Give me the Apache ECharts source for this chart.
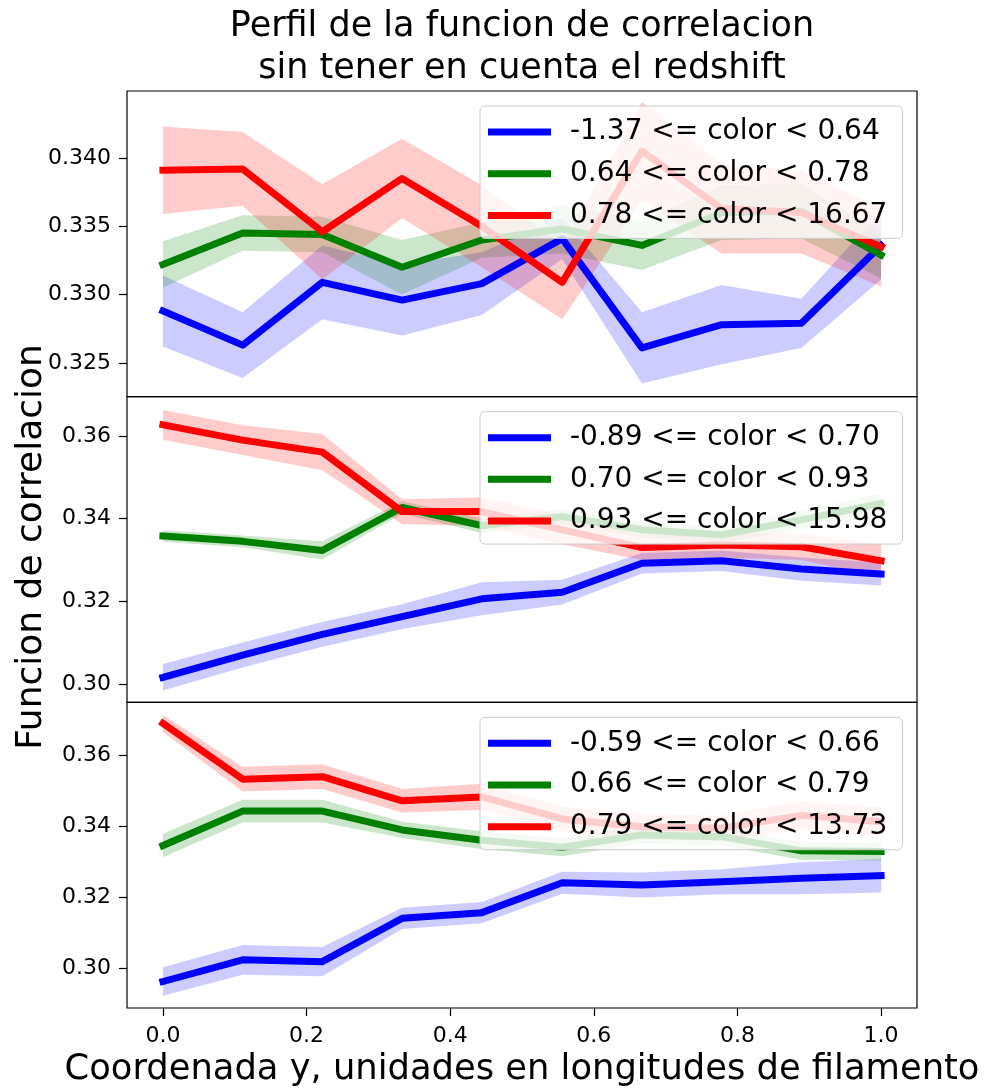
<!DOCTYPE html>
<html>
<head>
<meta charset="utf-8">
<script src="https://cdn.jsdelivr.net/npm/echarts@6/dist/echarts.min.js"></script>
<style>
  html, body { margin: 0; padding: 0; background: #ffffff; }
  #chart { width: 986px; height: 1092px; }
</style>
</head>
<body>
<div id="chart"></div>
<script>
// Position along the filament (normalised coordinate y)
const coordY = [0.0, 0.111, 0.222, 0.333, 0.444, 0.556, 0.667, 0.778, 0.889, 1.0];
const xTicks = [0.0, 0.2, 0.4, 0.6, 0.8, 1.0];

// Panel 1 colour bins
const labels1 = ['-1.37 <= color < 0.64', '0.64 <= color < 0.78', '0.78 <= color < 16.67'];
const blue1 = [0.3288, 0.3263, 0.3309, 0.3296, 0.3308, 0.3341, 0.3261, 0.3278, 0.3279, 0.3336];
const blue1Err = [0.0026, 0.0024, 0.0027, 0.0026, 0.0023, 0.0015, 0.0026, 0.0029, 0.0018, 0.0025];
const green1 = [0.3322, 0.3345, 0.3344, 0.3320, 0.3340, 0.3348, 0.3336, 0.3360, 0.3361, 0.3329];
const green1Err = [0.0017, 0.0013, 0.0013, 0.0020, 0.0013, 0.0018, 0.0018, 0.0020, 0.0020, 0.0017];
const red1 = [0.3391, 0.3392, 0.3346, 0.3385, 0.3350, 0.3309, 0.3405, 0.3363, 0.3360, 0.3335];
const red1Err = [0.0032, 0.0027, 0.0035, 0.0029, 0.0030, 0.0027, 0.0036, 0.0033, 0.0030, 0.0029];
const yTicks1 = [0.325, 0.330, 0.335, 0.340];

// Panel 2 colour bins
const labels2 = ['-0.89 <= color < 0.70', '0.70 <= color < 0.93', '0.93 <= color < 15.98'];
const blue2 = [0.3016, 0.3070, 0.3120, 0.3163, 0.3206, 0.3222, 0.3292, 0.3298, 0.3278, 0.3266];
const blue2Err = [0.0032, 0.0030, 0.0030, 0.0030, 0.0040, 0.0030, 0.0025, 0.0025, 0.0028, 0.0028];
const green2 = [0.3358, 0.3345, 0.3323, 0.3427, 0.3383, 0.3405, 0.3373, 0.3361, 0.3397, 0.3437];
const green2Err = [0.0014, 0.0014, 0.0022, 0.0015, 0.0018, 0.0018, 0.0018, 0.0020, 0.0022, 0.0024];
const red2 = [0.3627, 0.3590, 0.3561, 0.3417, 0.3417, 0.3373, 0.3330, 0.3336, 0.3332, 0.3298];
const red2Err = [0.0036, 0.0036, 0.0044, 0.0030, 0.0035, 0.0035, 0.0030, 0.0030, 0.0032, 0.0040];
const yTicks2 = [0.30, 0.32, 0.34, 0.36];

// Panel 3 colour bins
const labels3 = ['-0.59 <= color < 0.66', '0.66 <= color < 0.79', '0.79 <= color < 13.73'];
const blue3 = [0.2962, 0.3023, 0.3018, 0.3140, 0.3156, 0.3240, 0.3234, 0.3243, 0.3253, 0.3260];
const blue3Err = [0.0040, 0.0042, 0.0041, 0.0030, 0.0030, 0.0031, 0.0035, 0.0035, 0.0045, 0.0047];
const green3 = [0.3345, 0.3442, 0.3442, 0.3389, 0.3360, 0.3340, 0.3375, 0.3370, 0.3330, 0.3328];
const green3Err = [0.0033, 0.0032, 0.0032, 0.0023, 0.0025, 0.0025, 0.0025, 0.0025, 0.0025, 0.0025];
const red3 = [0.3689, 0.3532, 0.3539, 0.3471, 0.3482, 0.3420, 0.3398, 0.3394, 0.3430, 0.3412];
const red3Err = [0.0024, 0.0035, 0.0035, 0.0033, 0.0037, 0.0035, 0.0035, 0.0035, 0.0040, 0.0040];
const yTicks3 = [0.30, 0.32, 0.34, 0.36];

const FONT = 'DejaVu Sans';
const lineColors = ['#0000ff', '#008000', '#ff0000'];
const bandColors = ['rgba(0,0,255,0.2)', 'rgba(0,128,0,0.2)', 'rgba(255,0,0,0.2)'];

const panels = [
  { labels: labels1, means: [blue1, green1, red1], errs: [blue1Err, green1Err, red1Err],
    ticks: yTicks1, digits: 3, min: 0.32253, max: 0.34490, top: 91, height: 305.67 },
  { labels: labels2, means: [blue2, green2, red2], errs: [blue2Err, green2Err, red2Err],
    ticks: yTicks2, digits: 2, min: 0.29555, max: 0.36951, top: 396.67, height: 305.67 },
  { labels: labels3, means: [blue3, green3, red3], errs: [blue3Err, green3Err, red3Err],
    ticks: yTicks3, digits: 2, min: 0.28874, max: 0.37484, top: 702.33, height: 305.67 }
];

// Shaded mean ± error band drawn as one polygon through the axis scales
function bandSeries(k, mean, err, color) {
  const lo = mean.map((v, i) => v - err[i]);
  const hi = mean.map((v, i) => v + err[i]);
  return {
    type: 'custom', xAxisIndex: k, yAxisIndex: k, silent: true, z: 1,
    data: coordY.map((x, i) => [x, lo[i], hi[i]]),
    encode: { x: 0, y: [1, 2] },
    renderItem: (params, api) => {
      if (params.dataIndex !== 0) return null;
      const upper = coordY.map((x, i) => api.coord([x, hi[i]]));
      const lower = coordY.map((x, i) => api.coord([x, lo[i]])).reverse();
      return {
        type: 'polygon',
        shape: { points: upper.concat(lower) },
        style: { fill: color, stroke: null }
      };
    }
  };
}

const grids = [], xAxes = [], yAxes = [], legends = [], bands = [], lines = [];

panels.forEach((p, k) => {
  grids.push({
    left: 127, width: 790, top: p.top, height: p.height,
    show: true, borderColor: '#000000', borderWidth: 1.2, backgroundColor: 'transparent'
  });
  const isBottom = k === panels.length - 1;
  xAxes.push({
    type: 'value', gridIndex: k, min: -0.05, max: 1.05,
    axisLine: { show: false, onZero: false },
    splitLine: { show: false },
    axisTick: { show: isBottom, customValues: xTicks, length: 8, lineStyle: { color: '#000', width: 1.2 } },
    axisLabel: { show: isBottom, customValues: xTicks, margin: 17,
      formatter: v => v.toFixed(1), fontSize: 22, fontFamily: FONT, color: '#000' }
  });
  yAxes.push({
    type: 'value', gridIndex: k, min: p.min, max: p.max,
    axisLine: { show: false, onZero: false },
    splitLine: { show: false },
    axisTick: { show: true, customValues: p.ticks, length: 8, lineStyle: { color: '#000', width: 1.2 } },
    axisLabel: { customValues: p.ticks, margin: 16,
      formatter: v => v.toFixed(p.digits), fontSize: 22, fontFamily: FONT, color: '#000' }
  });
  legends.push({
    data: p.labels, orient: 'vertical', left: 480, top: p.top + 15,
    itemWidth: 63, itemHeight: 7, itemGap: 13.7, icon: 'rect',
    padding: [12, 15, 9, 8],
    backgroundColor: 'rgba(255,255,255,0.8)', borderColor: '#cccccc', borderWidth: 1, borderRadius: 5,
    selectedMode: false,
    textStyle: { fontSize: 28, fontFamily: FONT, color: '#000', padding: [0, 0, 0, 14] }
  });

  p.means.forEach((mean, c) => {
    bands.push(bandSeries(k, mean, p.errs[c], bandColors[c]));
    lines.push({
      type: 'line', name: p.labels[c], xAxisIndex: k, yAxisIndex: k,
      data: mean.map((v, i) => [coordY[i], v]),
      symbol: 'none', z: 2,
      itemStyle: { color: lineColors[c] },
      lineStyle: { color: lineColors[c], width: 7, join: 'round', cap: 'square' }
    });
  });
});

const chart = echarts.init(document.getElementById('chart'), null, { renderer: 'canvas' });
chart.setOption({
  animation: false,
  backgroundColor: '#ffffff',
  title: {
    text: 'Perfil de la funcion de correlacion\nsin tener en cuenta el redshift',
    left: 522, top: 6, textAlign: 'center', padding: 0,
    textStyle: { fontSize: 35, lineHeight: 42, fontWeight: 'normal', fontFamily: FONT, color: '#000' }
  },
  grid: grids,
  xAxis: xAxes,
  yAxis: yAxes,
  legend: legends,
  series: bands.concat(lines),
  graphic: [
    { type: 'text', x: 32, y: 547, rotation: Math.PI / 2,
      style: { text: 'Funcion de correlacion', align: 'center', verticalAlign: 'middle',
        fontSize: 36, fontFamily: FONT, fill: '#000' } },
    { type: 'text', x: 522, y: 1070,
      style: { text: 'Coordenada y, unidades en longitudes de filamento', align: 'center', verticalAlign: 'middle',
        fontSize: 35.3, fontFamily: FONT, fill: '#000' } }
  ]
});
</script>
</body>
</html>
